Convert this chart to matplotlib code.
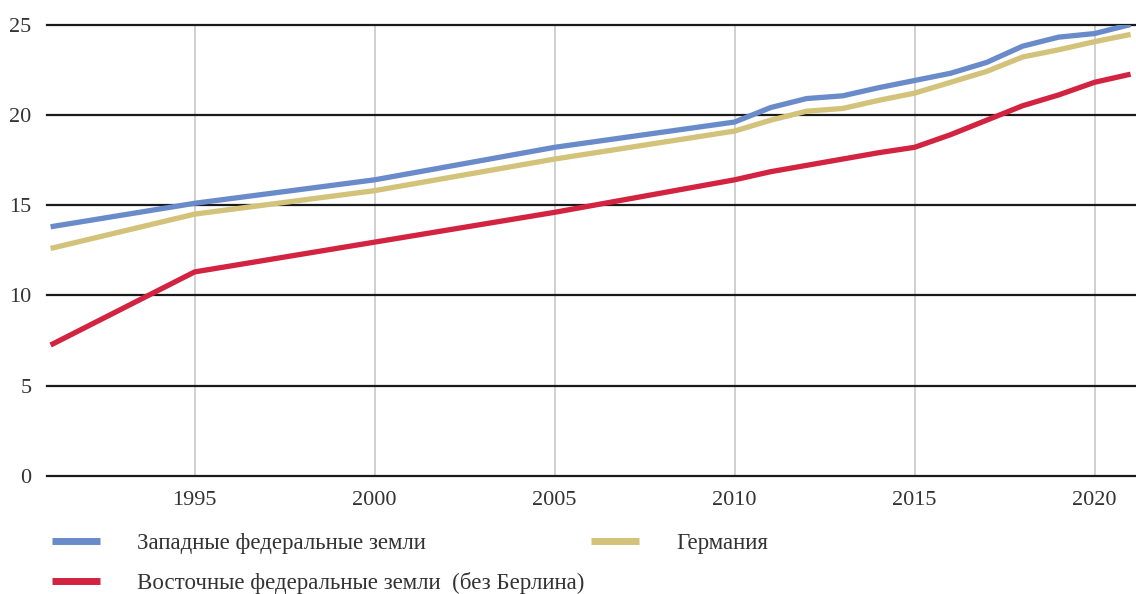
import matplotlib.pyplot as plt

plt.rcParams['font.family'] = ['Liberation Serif', 'DejaVu Serif']

years = [1991, 1995, 2000, 2005, 2010, 2011, 2012, 2013, 2014, 2015, 2016, 2017, 2018, 2019, 2020, 2021]
west = [13.8, 15.1, 16.4, 18.2, 19.6, 20.4, 20.9, 21.05, 21.5, 21.9, 22.3, 22.9, 23.8, 24.3, 24.5, 25.0]
germany = [12.6, 14.5, 15.8, 17.55, 19.1, 19.7, 20.2, 20.35, 20.8, 21.2, 21.8, 22.4, 23.2, 23.6, 24.05, 24.45]
east = [7.25, 11.3, 12.95, 14.6, 16.4, 16.85, 17.2, 17.55, 17.9, 18.2, 18.9, 19.7, 20.5, 21.1, 21.8, 22.25]

labels = ["Западные федеральные земли", "Германия", "Восточные федеральные земли  (без Берлина)"]
colors = ["#6a8bc9", "#d3c27a", "#d22340"]

fig = plt.figure(figsize=(11.36, 5.94), dpi=100)
ax = fig.add_axes([47 / 1136, 118 / 594, 1 - 47 / 1136, 451.5 / 594])

l1, = ax.plot(years, west, color=colors[0], lw=3.8, label=labels[0], solid_capstyle='butt', zorder=4)
l2, = ax.plot(years, germany, color=colors[1], lw=3.8, label=labels[1], solid_capstyle='butt', zorder=3)
l3, = ax.plot(years, east, color=colors[2], lw=3.8, label=labels[2], solid_capstyle='butt', zorder=3)

ax.set_xlim(1990.9, 2021.15)
ax.set_ylim(0, 25)
ax.set_yticks([0, 5, 10, 15, 20, 25])
ax.set_xticks([1995, 2000, 2005, 2010, 2015, 2020])

for y in [0, 5, 10, 15, 20, 25]:
    ax.axhline(y, color="#1a1a1a", lw=1.6, zorder=2, clip_on=False)
for x in [1995, 2000, 2005, 2010, 2015, 2020]:
    ax.axvline(x, color="#c8c8c8", lw=1.2, zorder=1)

for s in ax.spines.values():
    s.set_visible(False)
ax.tick_params(length=0, labelsize=16, colors="#333333")
ax.tick_params(axis='x', pad=10.5)
ax.tick_params(axis='y', pad=11)

leg = ax.legend([l1, l3, l2], [labels[0], labels[2], labels[1]], ncol=2,
                loc='upper left', bbox_to_anchor=(52 / 1136, 61 / 594),
                bbox_transform=fig.transFigure, frameon=False, fontsize=16.5,
                handlelength=2.1, handletextpad=1.6, columnspacing=0.3,
                labelspacing=0.78, borderpad=0, borderaxespad=0)
for t in leg.get_texts():
    t.set_color("#333333")
for h in leg.get_lines():
    h.set_linewidth(5)

fig.savefig("out.png", dpi=100)
